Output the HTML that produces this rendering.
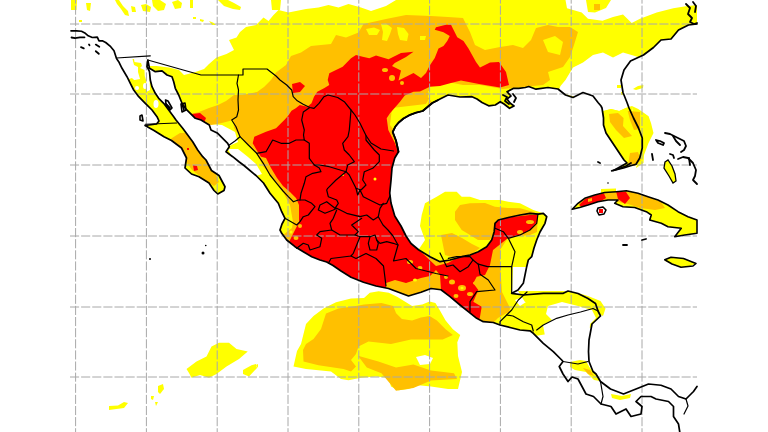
<!DOCTYPE html>
<html><head><meta charset="utf-8"><style>html,body{margin:0;padding:0;background:#fff;overflow:hidden;font-family:"Liberation Sans",sans-serif;}svg{display:block}</style></head>
<body><svg width="768" height="432" viewBox="0 0 768 432"><rect width="768" height="432" fill="#fff"/><polygon points="0,86 126,80 132,78 136,82 140,88 146,92 150,90 149,66 156.5,66 169,67.5 179,70 184,75 194,72.5 204,69 209,64 216.5,57.5 226.5,54 234,50 229,40 236.5,37.5 240,32 246,27 256,25 263.5,17.5 268.5,21 273.5,15 278.5,10 288.5,12.5 306,9 318.5,7.5 328.5,5 338.5,7.5 348.5,4 361,7.5 371,11 386,6 396,0 565.5,0 567,8.3 581.7,12.5 588,18.75 602.5,20.8 613,17 623,14.6 631.7,22.9 640,18.75 656.7,12.5 673.3,8.3 685.8,6.25 697,5 697,295 606,300 598,312 600,322 590,328 560,332 535,336 530,345 0,345" fill="#ffff00"/><polygon points="71,0 77,0 76.5,10 71,10" fill="#ffff00"/><polygon points="86,3 91,3 90,11 87,10" fill="#ffff00"/><polygon points="115,0 119,0 123,6 128,11 129,16 125,15 121,9 117,4" fill="#ffff00"/><polygon points="131,6 135,7 136,12 132,12" fill="#ffff00"/><polygon points="141,5 146,4 151,7 150,12 143,11" fill="#ffff00"/><polygon points="152,0 160,0 166,4 164,10 158,11 153,6" fill="#ffff00"/><polygon points="172,2 178,0 182,3 181,8 175,9" fill="#ffff00"/><polygon points="190,0 193,0 193,8 190,8" fill="#ffff00"/><polygon points="218,0 228,0 234,3 241,7 240,10 233,9 224,6" fill="#ffff00"/><polygon points="193,17 196,17 196,19 193,19" fill="#ffff00"/><polygon points="200,19 204,20 203,22 200,21" fill="#ffff00"/><polygon points="209,21 214,23 216,25 212,25" fill="#ffff00"/><polygon points="79,20 82,20 82,22 79,22" fill="#ffff00"/><polygon points="271,0 281,0 280,10 272,10" fill="#ffff00"/><polygon points="586,0 611,0 606,8 595,12.5 588,12" fill="#ffff00"/><polygon points="132.5,59 134,59 134.5,62 141,63 142,66 140,68 144.5,70 144.75,76 146,80 147,90 147,94 156,96 160,104 150,100 138,95 131,86 128,79 134.75,80 140,79 138,72 138,67 134,65" fill="#ffff00"/><polygon points="640,57.5 623,52.5 613,57.5 603,52.5 593,55 583,62.5 573,67.5 565.5,80 560.5,86 558,92 600,104 603,111 611,109 619,111 626,108 632,106 626,100 626,80 632,60" fill="#ffffff"/><polygon points="208,124 222,125 235,132 238,142 229,146 220,138 211,133" fill="#ffffff"/><polygon points="228,149 238,149 248,157 256,164 262,174 256,176 241,163 232,157" fill="#ffffff"/><polygon points="548,306 562,302 578,306 592,310 596,318 590,324 589,350 590,365 570,360 545,336 543,325 552,320 546,314" fill="#ffffff"/><polygon points="515,300 522,297 526,302 520,306" fill="#ffffff"/><polygon points="513,267 527,267 525,283 518,292 512,293" fill="#ffffff"/><ellipse cx="137" cy="88" rx="2" ry="2" fill="#fff"/><ellipse cx="156" cy="104" rx="2.5" ry="4" fill="#fff"/><ellipse cx="145" cy="86" rx="2" ry="3" fill="#fff"/><polygon points="186,115 199,112 209,108 218,105 226,101 234,95 242,95 257,92 264,87 271,80 276,72.5 286,65 291,56 301,52.5 311,46 331,44 336,35 346,37.5 358.5,32.5 363.5,24 386,19 406,15 431,16 448,17 463,18 470,32 475,45 485,50 500,47 513,45 523,48 531,40 536,28 548,25 558,27 570,27 578,32 574,45 570,57 563,67 548,72 550,80 543,85 523,87 503,89 480,85 463,85 448,82 430,84 428,97 445,120 420,200 420,250 495,223 510,210 538,214 537,232 530,235 520,236 508,238 500,250 500,263 502,292 510,308 507,322 498,330 470,345 300,345 270,250 283,235 292,228 293,222 290,205 283,192 279,186 273,178 263.3,166.7 256.7,153.3 248.3,145 240,136.7 234,128 233.3,120 221,123.3 211,125 200,122 190,118" fill="#ffc000"/><polygon points="172,138 180,133 188,133 196,140 205,152 212,165 216,175 219,182 214,186 205,180 192,170 185,160 178,148 168,142" fill="#ffc000"/><polygon points="392,108 426,104 430,97 426,110 411,118 401,126 396,133 390,125" fill="#ffff00"/><polygon points="428,91 448,89 463,91 480,91 500,93 510,95 500,100 480,100 448,98 430,98" fill="#ffff00"/><polygon points="381,24 386,23.5 392,28 390,34 387,41 382,40 383,32" fill="#ffff00"/><polygon points="397,27 404,28 408.5,34 407,41 400,40 398,34" fill="#ffff00"/><polygon points="420,36 426,36 425,40 420,40" fill="#ffff00"/><polygon points="366,29 374,27.5 380,30 377,35 369,35" fill="#ffff00"/><polygon points="543,40 555,36 563,42 560,55 548,52" fill="#ffff00"/><polygon points="299,222 299,205 296,198 290,192 283,186 277,178 271,168 266,158 261,156.7 257.7,151.7 252.7,143.3 254.3,136.7 266,131.7 276,128.3 284.3,120 288,116 291.5,110.8 295.7,108.3 299.8,105 307.3,106.7 311.5,103.3 314,96.7 317.3,91.7 324,88.3 329.3,85 327.7,80 329.3,73.3 336,70 342.7,66.7 351,58.3 356,55 362.7,56.7 369.3,58.3 376,55.5 388.5,59.25 401,53 413.5,51.75 406,57 394.75,63 392,66 401,70.5 398.5,80.5 406,76.75 413.5,73 421,78 426,73 429.75,65.5 434.75,58 438.5,48.5 443.5,46 447.25,41 449.75,36 443.5,32.25 434.75,29.75 436,27.25 446,24.75 451,24.75 453.5,29.75 457.25,37.25 463.5,41 468.5,48.5 476,62 480,67.5 490,62.5 499,62 506,72 509,85 500,87.5 479,84 461,80.5 451,83 440,86 429.75,86.75 420,91.5 413.5,91.75 404.75,95.5 400,101.7 390,113.3 386.7,118.3 388.3,130 395,143.3 398,152 440,160 440,200 405,230 418,249 436,266 448,263 470,250 495,223 498,220 508,217 520,215 538,214 537,222 530,230 520,235 508,238 493,250 490,265 485,275 476.7,276.7 473.3,283.3 478.3,290 473.3,301.7 481.7,306.7 480,316.7 478,324 440,300 400,300 300,270 289,242 292,236 296,228" fill="#ff0000"/><polygon points="292,84 300,82 305,86 300,92 293,93" fill="#ff0000"/><polygon points="192,114 200,113 206,118 204,123 196,120" fill="#ff0000"/><polygon points="386,283 395,280 406,283 421,278 430,276 436,270 440,275 441,290 431,288.5 421,292 408,296 398,292 386,288" fill="#ffc000"/><ellipse cx="452" cy="282" rx="3" ry="2.5" fill="#ffc000"/><ellipse cx="462" cy="288" rx="4" ry="3" fill="#ffc000"/><ellipse cx="470" cy="294" rx="3" ry="2" fill="#ffc000"/><ellipse cx="456" cy="296" rx="2.5" ry="2" fill="#ffc000"/><ellipse cx="478" cy="300" rx="2" ry="2" fill="#ffc000"/><ellipse cx="446" cy="277" rx="2" ry="2" fill="#ffc000"/><ellipse cx="462" cy="288" rx="1.5" ry="1.2" fill="#ffff00"/><ellipse cx="475" cy="283" rx="2" ry="1.5" fill="#ffc000"/><ellipse cx="300" cy="226" rx="2" ry="2" fill="#ffc000"/><ellipse cx="296" cy="238" rx="2.5" ry="2" fill="#ffc000"/><ellipse cx="291" cy="232" rx="1.5" ry="1.5" fill="#ffff00"/><ellipse cx="410" cy="262" rx="3" ry="2" fill="#ffc000"/><ellipse cx="420" cy="268" rx="2.5" ry="2" fill="#ffc000"/><ellipse cx="415" cy="280" rx="2" ry="1.5" fill="#ffff00"/><ellipse cx="530" cy="222" rx="4" ry="2" fill="#ffc000"/><ellipse cx="520" cy="232" rx="3" ry="2" fill="#ffc000"/><ellipse cx="375" cy="179" rx="1.5" ry="1.5" fill="#ffff00"/><ellipse cx="343" cy="175" rx="1" ry="1" fill="#ffff00"/><ellipse cx="385" cy="70" rx="3" ry="2" fill="#ffc000"/><ellipse cx="392" cy="78" rx="3" ry="3" fill="#ffc000"/><ellipse cx="402" cy="83" rx="2" ry="2" fill="#ffc000"/><polygon points="0,30.5 71,30.8 76.5,30.8 81.5,31.25 84.8,32.9 88.2,35.8 92.3,37.5 97.3,37.1 99,40.8 102.3,40.8 105.7,42.5 110.7,46.7 114,50.8 115.7,56 116.5,58.5 118.7,61.7 122,68.3 127,76.7 130.3,83.3 133.7,90 138.7,96.7 145.3,103.3 152,110 157,116.7 159,121 156.5,124 145,125.5 154,130.5 164,136.75 171.5,140.5 181.5,148 186.5,158 185,168 191.5,174 199,176.75 209,183 214,190.5 217.75,194 224,190.5 225,186.75 219,175.5 211.5,170.5 206,160 202.7,156.7 197.7,150 192.7,141.7 187.7,135 182.7,128.3 176,120 173.7,116.7 168.7,110 163.7,103.3 158.7,98.3 155.3,93.3 152,86.7 150.3,80 149.5,71.7 147,66.7 147.8,60 149.5,68.3 155.3,71.7 162,70.8 167,75 172,76.7 173.7,81.7 175.3,88.3 178.7,95 182,103.3 185.3,108.3 190.3,113.3 195.3,118.3 201,120 209.3,125 211,130 217.7,133.3 222.7,138.3 227.7,143.3 229.3,146.7 226,151.7 232.7,156.7 239.3,162 244,165.5 256,175.5 263.5,183 270,193.3 278.3,203.3 281.7,211.7 285,218.3 282,224 280,230 281.7,233.3 286.7,240 295,246.7 303.3,251.7 311.7,256.7 320,260 326.7,262 333,265.5 341,271 351,277.25 363.5,282.25 376,286 388.5,288.5 398.5,292.25 408.5,296 421,292.25 431,288.5 441,289.75 450,296.7 460,305 468.3,311.7 476.7,318.3 483.3,321.7 493.3,322.5 500,325 510,327.5 520,330 530,330.8 533.3,333.3 543.3,343.3 553.3,351.7 561.7,360 563,361.5 559.25,366.5 563,374 568,381.5 572,377 578,379 586,394 593.5,396.5 601,404 611,406.5 616,414 621,411.5 626,409 631,416.5 641,414 642,406.5 636,401.5 641,396.5 651,396.5 656,399 668.5,401.5 673.5,406.5 673.5,416.5 678.5,424 679.75,432 679.75,432 0,432" fill="#fff"/><polygon points="697,24 688.5,25 678.5,30 671,39 661,40 653.5,47.5 643.5,55 630.5,61 624,70 621,80 623,92.5 627,102.5 629,108 633.5,118 638.5,128 642.25,138 642.25,148 639.75,158 636,164.25 629.75,166 623.5,168 613.5,170.5 618,168 627,163 624,160 621,155.5 616,148 611,140.5 606,133 603.5,125 603.5,118 602,108 601,106 598,102.5 593,96 583,92.5 573,97.5 565.5,95 558,89 548,87.5 536,89.2 528.7,86.5 525.3,87.5 518.7,88.3 513.7,88.3 507,91.7 511,96 507,99 510.3,103.3 514,106 509.5,108.3 504,104 500.3,101.7 495.3,105 488.7,105.8 482,102.5 477,99 472,96.7 460,97 448,95 440,99 437.7,100.2 432.7,102.7 427.7,106.8 422.7,111 416,112.7 409.3,115.2 403.5,118.5 398.5,122.7 395.2,126.8 392.7,132 396,140.5 398.5,151.75 394.75,158 392,168 391,180.5 389.75,193 391,203 394.75,216 401,226 406,236 411,243.5 418.5,249.75 430,256.7 440,261.7 450,260 461.7,256.7 470,255 478.3,251.7 486.7,246.7 491.7,240 494.2,231.7 495,223.3 498.3,220 508.3,217.5 520,215 530,213.3 538.3,214.2 543.3,213.3 546.7,216.7 545,223.3 540,232 536.7,240 534,248 531.7,256.7 528.3,260 526.7,266.7 525,275 523.3,283.3 518,290 511.7,293.3 523.3,295 543.3,293.3 563.3,293.3 568,291 578,293.5 588,298.5 595.5,303.5 598,311 600.5,316 592,324 589,340 588.5,351.5 589,361.5 593,371.5 596,374 600.5,381.5 610.5,389 623.5,394 636,389 648.5,384 661,385.25 671,389 678.5,396.5 686,399 693.5,391.5 697,386.5 768,386.5 768,24" fill="#fff"/><defs><clipPath id="cuba"><polygon points="572.2,209.2 578,203.3 584.7,198.3 594.7,195 604.7,192.5 616.3,191.7 626.3,190.8 638,193.3 648,196.7 658,200 668,205 678,211.7 688,216.7 697,220 697,233.3 684.7,235 674.7,236.7 681.3,228.3 668,226.7 661.3,223.3 649.7,220 651.3,215 646.3,211.7 634.7,207.5 623,206.7 614.7,203.3 618,200 608,200 598,201.7 588,205 579.7,207.5 572.2,209.2"/></clipPath></defs><polygon points="421.7,215 425,203.3 436.7,196.7 445,191.7 456.7,191.7 461.7,196.7 470,196.7 480,200 490,200 500,200 508.3,201.7 520,203.3 533.3,210 543.3,213.3 538,214.2 520,215 508,217.5 498,220 495,223 494,232 491.7,240 486.7,246.7 478,252 470,255 461.7,256.7 450,260 440,261.7 430,256.7 418.5,249.75 425,240 420,226" fill="#ffff00"/><polygon points="455,211.7 460,205 470,203.3 485,203 495,206.7 508,208 520,208.3 533,211.7 538,214 508,217.5 498,220 495,223 494,231 490,240 478,240 470,235 461.7,230 455,220" fill="#ffc000"/><polygon points="441,235 452,233 462,238 472,244 480,248 470,255 455,258 445,255" fill="#ffc000"/><polygon points="293.5,366.5 297,351 301,344 303.5,334 306,324 313.5,316 323.5,308.5 336,302.25 351,298.5 364,298 369.8,292.7 378.6,291.3 388.8,292.7 397.5,297.1 404.8,301.5 412.1,305.9 422.3,304.4 429.6,301.5 435.4,303 439.8,310.2 445.6,320.4 452.9,329.2 460.2,335 457.3,342.3 458,356 462,372 458,389 448,389 431,386.5 418.5,385.25 408.5,389 398.5,390.25 391,386.5 388.5,377.75 376,376.5 361,377.75 348.5,380.25 341,379 331,371.5 318.5,370.25 306,369" fill="#ffff00"/><polygon points="326,313.5 338.5,308.5 356,306 364,304.4 381.5,303 393.2,305.9 396.1,313.2 401.9,319 412.1,320.4 420.9,317.5 429.6,316.1 436.9,320.4 445.6,329.2 452.9,335 442.7,339.4 422.3,339.4 411,339.5 391,344 368.5,341.5 358.5,346.5 356,354 351,360 356,366.5 351,371.5 343.5,369 318.5,365.25 303.5,361.5 303,350 306,344 313.5,339 321,329" fill="#ffc000"/><polygon points="358,355.8 378.4,361.6 396,367.5 413.4,364.5 431,370.4 454,373.3 457,379 431,380.6 413.4,388 396,390.8 390,383.5 381.4,373.3 366.8,367.5" fill="#ffc000"/><polygon points="416,357 425,355 433,358 430,364 420,365" fill="#ffffff"/><polygon points="186.5,369 196.5,361.5 206.5,356.5 211.5,346.5 219,342.75 229,342.75 236.5,349 247.75,351.5 239,359 226.5,366.5 216.5,374 209,377.75 200,375 191.5,377.75 189,373" fill="#ffff00"/><polygon points="243,370 251.5,365.25 256,364 257,368 249,376.5 243,374" fill="#ffff00"/><polygon points="109,406 118,405.5 124,402 128,403 124,408 109,410" fill="#ffff00"/><polygon points="158,386 163,384 164,389 160,394 158,392" fill="#ffff00"/><polygon points="151,396 154,396 153,400 151,399" fill="#ffff00"/><polygon points="155,402 158,402 156,406" fill="#ffff00"/><polygon points="256,365 258,364 258,368" fill="#ffff00"/><polygon points="570,362 580,360 586,361 590,368 598,376 600,381 594,380 586,372 575,370 570,367" fill="#ffff00"/><polygon points="583,368 590,370 594,376 588,374" fill="#ffc000"/><polygon points="611,394 622,396 631,394 630,398 620,400 612,398" fill="#ffff00"/><polygon points="518,291 543,291 563,291 578,293 588,296 600.5,301 605.5,308.5 603,316 596,312 588,303 570,300 545,300 525,302" fill="#ffff00"/><polygon points="498,318 506.7,313 520,318 532,322 536,332 530,331 520,330 500,325 493,323" fill="#ffff00"/><polygon points="604,111 611,109 619.4,111 625.7,108 631.9,105.9 633.5,118 638.5,128 642,138 642,148 640,158 636,164 630,166 624,168 614,170.5 618,168 627,163 624,160 621,155.5 616,148 611,140.5 606,133 603.5,125 603.5,118" fill="#ffff00"/><polygon points="631.9,105.9 638.2,109 644.4,113.2 648.6,116.3 651,123 653.5,133 648.5,143 644,155 643.5,163 636,168 638,160 642,148 642,138 638.5,128 633.5,118" fill="#ffff00"/><polygon points="609,114 618,113 623.6,118 623,126 632,136 624,138 616,130 610,122" fill="#ffc000"/><polygon points="627.75,111 640,112 640,129 634,130 630,120" fill="#ffc000"/><polygon points="630,153 638,152 641,160 635,166 628,165" fill="#ffc000"/><polygon points="572.2,209.2 578,203.3 584.7,198.3 594.7,195 604.7,192.5 616.3,191.7 626.3,190.8 638,193.3 648,196.7 658,200 668,205 678,211.7 688,216.7 697,220 697,233.3 684.7,235 674.7,236.7 681.3,228.3 668,226.7 661.3,223.3 649.7,220 651.3,215 646.3,211.7 634.7,207.5 623,206.7 614.7,203.3 618,200 608,200 598,201.7 588,205 579.7,207.5" fill="#ffff00" clip-path="url(#cuba)"/><polygon points="578,204 588,198 603,193 618,191 628,191 641,194 651,198 661,202 665,208 655,210 640,208 628,204 618,202 600,204 588,206" fill="#ffc000" clip-path="url(#cuba)"/><polygon points="193,165 197,166 198,170 194,171" fill="#ff0000"/><polygon points="187,148 189,148 189,150 187,150" fill="#ff0000"/><polygon points="601,189 616,188.5 616,192 601,193" fill="#ffff00"/><polygon points="579,205 585,199 594,195.5 604,193.5 606,198 600,201.7 590,204.5 582,207" fill="#ff0000" clip-path="url(#cuba)"/><polygon points="588,199 592,198 592,201 588,202" fill="#ffc000" clip-path="url(#cuba)"/><polygon points="616,191 626,192 630,198 625,204 618,199" fill="#ff0000" clip-path="url(#cuba)"/><polygon points="595,208 605,208 608,214 600,216 594,213" fill="#ffffff"/><polygon points="599,209 603,209 603,213 599,213" fill="#ff0000"/><polygon points="594,4 600,4 600,10 594,10" fill="#ffc000"/><polygon points="664.75,259.75 671,257.25 683.5,258.5 696,263.5 690,266 681,267.25 672,264 665,261" fill="#ffff00"/><polygon points="617,85 621.5,85 621,88 617,88" fill="#ffff00"/><polygon points="633,89 638,86 643.4,85 643,88 636,90" fill="#ffff00"/><polygon points="621,92 623,92 623,95 621,95" fill="#ffff00"/><rect x="0" y="0" width="71" height="432" fill="#fff"/><rect x="697" y="0" width="71" height="432" fill="#fff"/><g stroke="#a8a8a8" stroke-width="1" stroke-dasharray="9.1 2.02"><line x1="75.60" y1="0" x2="75.60" y2="432" stroke-dashoffset="5.47"/><line x1="146.40" y1="0" x2="146.40" y2="432" stroke-dashoffset="5.47"/><line x1="217.20" y1="0" x2="217.20" y2="432" stroke-dashoffset="5.47"/><line x1="288.00" y1="0" x2="288.00" y2="432" stroke-dashoffset="5.47"/><line x1="358.80" y1="0" x2="358.80" y2="432" stroke-dashoffset="5.47"/><line x1="429.60" y1="0" x2="429.60" y2="432" stroke-dashoffset="5.47"/><line x1="500.40" y1="0" x2="500.40" y2="432" stroke-dashoffset="5.47"/><line x1="571.20" y1="0" x2="571.20" y2="432" stroke-dashoffset="5.47"/><line x1="642.00" y1="0" x2="642.00" y2="432" stroke-dashoffset="5.47"/><line x1="70" y1="24.00" x2="697" y2="24.00" /><line x1="70" y1="94.00" x2="697" y2="94.00" /><line x1="70" y1="165.00" x2="697" y2="165.00" /><line x1="70" y1="236.00" x2="697" y2="236.00" /><line x1="70" y1="307.00" x2="697" y2="307.00" /><line x1="70" y1="377.00" x2="697" y2="377.00" /></g><polyline points="71,30.8 76.5,30.8 81.5,31.25 84.8,32.9 88.2,35.8 92.3,37.5 97.3,37.1 99,40.8 102.3,40.8 105.7,42.5 110.7,46.7 114,50.8 115.7,56 116.5,58.5 118.7,61.7 122,68.3 127,76.7 130.3,83.3 133.7,90 138.7,96.7 145.3,103.3 152,110 157,116.7 159,121 156.5,124 145,125.5 154,130.5 164,136.75 171.5,140.5 181.5,148 186.5,158 185,168 191.5,174 199,176.75 209,183 214,190.5 217.75,194 224,190.5 225,186.75 219,175.5 211.5,170.5 206,160 202.7,156.7 197.7,150 192.7,141.7 187.7,135 182.7,128.3 176,120 173.7,116.7 168.7,110 163.7,103.3 158.7,98.3 155.3,93.3 152,86.7 150.3,80 149.5,71.7 147,66.7 147.8,60 149.5,68.3 155.3,71.7 162,70.8 167,75 172,76.7 173.7,81.7 175.3,88.3 178.7,95 182,103.3 185.3,108.3 190.3,113.3 195.3,118.3 201,120 209.3,125 211,130 217.7,133.3 222.7,138.3 227.7,143.3 229.3,146.7 226,151.7 232.7,156.7 239.3,162 244,165.5 256,175.5 263.5,183 270,193.3 278.3,203.3 281.7,211.7 285,218.3 282,224 280,230 281.7,233.3 286.7,240 295,246.7 303.3,251.7 311.7,256.7 320,260 326.7,262 333,265.5 341,271 351,277.25 363.5,282.25 376,286 388.5,288.5 398.5,292.25 408.5,296 421,292.25 431,288.5 441,289.75 450,296.7 460,305 468.3,311.7 476.7,318.3 483.3,321.7 493.3,322.5 500,325 510,327.5 520,330 530,330.8 533.3,333.3 543.3,343.3 553.3,351.7 561.7,360 563,361.5 559.25,366.5 563,374 568,381.5 572,377 578,379 586,394 593.5,396.5 601,404 611,406.5 616,414 621,411.5 626,409 631,416.5 641,414 642,406.5 636,401.5 641,396.5 651,396.5 656,399 668.5,401.5 673.5,406.5 673.5,416.5 678.5,424 679.75,432" fill="none" stroke="#000" stroke-width="1.7" stroke-linejoin="round" stroke-linecap="round"/><polyline points="697,24 688.5,25 678.5,30 671,39 661,40 653.5,47.5 643.5,55 630.5,61 624,70 621,80 623,92.5 627,102.5 629,108 633.5,118 638.5,128 642.25,138 642.25,148 639.75,158 636,164.25 629.75,166 623.5,168 613.5,170.5 618,168 627,163 624,160 621,155.5 616,148 611,140.5 606,133 603.5,125 603.5,118 602,108 601,106 598,102.5 593,96 583,92.5 573,97.5 565.5,95 558,89 548,87.5 536,89.2 528.7,86.5 525.3,87.5 518.7,88.3 513.7,88.3 507,91.7 511,96 507,99 510.3,103.3 514,106 509.5,108.3 504,104 500.3,101.7 495.3,105 488.7,105.8 482,102.5 477,99 472,96.7 460,97 448,95 440,99 437.7,100.2 432.7,102.7 427.7,106.8 422.7,111 416,112.7 409.3,115.2 403.5,118.5 398.5,122.7 395.2,126.8 392.7,132 396,140.5 398.5,151.75 394.75,158 392,168 391,180.5 389.75,193 391,203 394.75,216 401,226 406,236 411,243.5 418.5,249.75 430,256.7 440,261.7 450,260 461.7,256.7 470,255 478.3,251.7 486.7,246.7 491.7,240 494.2,231.7 495,223.3 498.3,220 508.3,217.5 520,215 530,213.3 538.3,214.2 543.3,213.3 546.7,216.7 545,223.3 540,232 536.7,240 534,248 531.7,256.7 528.3,260 526.7,266.7 525,275 523.3,283.3 518,290 511.7,293.3 523.3,295 543.3,293.3 563.3,293.3 568,291 578,293.5 588,298.5 595.5,303.5 598,311 600.5,316 592,324 589,340 588.5,351.5 589,361.5 593,371.5 596,374 600.5,381.5 610.5,389 623.5,394 636,389 648.5,384 661,385.25 671,389 678.5,396.5 686,399 693.5,391.5 697,386.5" fill="none" stroke="#000" stroke-width="1.7" stroke-linejoin="round" stroke-linecap="round"/><polyline points="572.2,209.2 578,203.3 584.7,198.3 594.7,195 604.7,192.5 616.3,191.7 626.3,190.8 638,193.3 648,196.7 658,200 668,205 678,211.7 688,216.7 697,220 697,233.3 684.7,235 674.7,236.7 681.3,228.3 668,226.7 661.3,223.3 649.7,220 651.3,215 646.3,211.7 634.7,207.5 623,206.7 614.7,203.3 618,200 608,200 598,201.7 588,205 579.7,207.5 572.2,209.2" fill="none" stroke="#000" stroke-width="1.6" stroke-linejoin="round" stroke-linecap="round"/><polyline points="598,208 603,207 606,210 604,214 599,215 597,211 598,208" fill="none" stroke="#000" stroke-width="1.6" stroke-linejoin="round" stroke-linecap="round"/><polyline points="664.75,259.75 671,257.25 683.5,258.5 696,263.5 693,266 681,267.25 672,264 664.75,259.75" fill="none" stroke="#000" stroke-width="1.6" stroke-linejoin="round" stroke-linecap="round"/><polyline points="181,104 185,103 186,110 182,112 181,104" fill="none" stroke="#000" stroke-width="1.6" stroke-linejoin="round" stroke-linecap="round"/><polyline points="165.5,100 168,101 172,108 170,110 166,104 165.5,100" fill="none" stroke="#000" stroke-width="1.6" stroke-linejoin="round" stroke-linecap="round"/><polyline points="140,116 142,115 143,121 140,120 140,116" fill="none" stroke="#000" stroke-width="1.6" stroke-linejoin="round" stroke-linecap="round"/><polyline points="437.7,100.2 432.7,102.7 427.7,106.8 422.7,111 416,112.7 409.3,115.2 403.5,118.5 398.5,122.7 395.2,126.8 392.7,132 396,140.5 398.5,151.75" fill="none" stroke="#000" stroke-width="1.8" stroke-linejoin="round" stroke-linecap="round"/><polyline points="503,95 507,97 505,101 509,104" fill="none" stroke="#000" stroke-width="1.8" stroke-linejoin="round" stroke-linecap="round"/><polyline points="513,94 516,98 514,102" fill="none" stroke="#000" stroke-width="1.8" stroke-linejoin="round" stroke-linecap="round"/><polyline points="686,4 690,8 688,14 692,18 690,22 694,24 697,23" fill="none" stroke="#000" stroke-width="1.8" stroke-linejoin="round" stroke-linecap="round"/><polyline points="693,2 696,6 695,12" fill="none" stroke="#000" stroke-width="1.8" stroke-linejoin="round" stroke-linecap="round"/><polyline points="656,140 660,141 664,143 663,145 658,143 656,140" fill="none" stroke="#000" stroke-width="1.8" stroke-linejoin="round" stroke-linecap="round"/><polyline points="665,133 670,134 676,137 684,141 686,146 684,150 681,152" fill="none" stroke="#000" stroke-width="1.8" stroke-linejoin="round" stroke-linecap="round"/><polyline points="673,136 676,141 680,145" fill="none" stroke="#000" stroke-width="1.8" stroke-linejoin="round" stroke-linecap="round"/><polyline points="670,154 673,155 674,158" fill="none" stroke="#000" stroke-width="1.8" stroke-linejoin="round" stroke-linecap="round"/><polyline points="678,159 683,157 688,158 693,163 696,170 695,176 693,180 697,184" fill="none" stroke="#000" stroke-width="1.8" stroke-linejoin="round" stroke-linecap="round"/><polyline points="689,158 690,165" fill="none" stroke="#000" stroke-width="1.8" stroke-linejoin="round" stroke-linecap="round"/><polyline points="652,154 653,160" fill="none" stroke="#000" stroke-width="1.8" stroke-linejoin="round" stroke-linecap="round"/><polyline points="611.7,170.8 618,169 626,166 631,163" fill="none" stroke="#000" stroke-width="1.8" stroke-linejoin="round" stroke-linecap="round"/><polyline points="623,245 627,245" fill="none" stroke="#000" stroke-width="1.8" stroke-linejoin="round" stroke-linecap="round"/><polyline points="642,240 646,239" fill="none" stroke="#000" stroke-width="1.8" stroke-linejoin="round" stroke-linecap="round"/><polyline points="598,162 600,163" fill="none" stroke="#000" stroke-width="1.8" stroke-linejoin="round" stroke-linecap="round"/><polyline points="71.5,37.5 75,38.2 80,37.4 84.5,37.3" fill="none" stroke="#000" stroke-width="1.8" stroke-linejoin="round" stroke-linecap="round"/><polyline points="81,47.2 83.8,48.3" fill="none" stroke="#000" stroke-width="1.8" stroke-linejoin="round" stroke-linecap="round"/><polyline points="89,44.5 89.5,45.2" fill="none" stroke="#000" stroke-width="1.8" stroke-linejoin="round" stroke-linecap="round"/><polyline points="95.8,44.6 99.3,46.8" fill="none" stroke="#000" stroke-width="1.8" stroke-linejoin="round" stroke-linecap="round"/><polyline points="95.8,51.2 98.8,53.8" fill="none" stroke="#000" stroke-width="1.8" stroke-linejoin="round" stroke-linecap="round"/><polyline points="166,104 170,108" fill="none" stroke="#000" stroke-width="1.8" stroke-linejoin="round" stroke-linecap="round"/><polyline points="182,104 184,110" fill="none" stroke="#000" stroke-width="1.8" stroke-linejoin="round" stroke-linecap="round"/><polygon points="665,162 668,160 672,166 675,174 676,181 673,183 669,176 664,168" fill="#ffff00" stroke="#000" stroke-width="1.3"/><polyline points="116.5,58 150.3,55.8" fill="none" stroke="#000" stroke-width="1.2" stroke-linejoin="round" stroke-linecap="round"/><polyline points="147.8,60 201,75 243,75 243,69 267,69 276,76 280,80 286.7,85 291.7,90 293.2,96.7 297.3,100.8 303.2,104.2 309.8,107.5 314,108.3 319,103.3 324,96.7 328,95 337.7,97.5 344.3,101.7 351,110 355,115 360,123.3 366,135.5 371,143 381,149 393.5,151" fill="none" stroke="#000" stroke-width="1.2" stroke-linejoin="round" stroke-linecap="round"/><polyline points="145.25,124.25 176.5,123" fill="none" stroke="#000" stroke-width="1.2" stroke-linejoin="round" stroke-linecap="round"/><polyline points="238.5,75 237,83.3 238.5,90 238,100 238.5,110 236.8,116.7 231.7,120 236,126.7 240,136.7 235,141 229.3,145" fill="none" stroke="#000" stroke-width="1.2" stroke-linejoin="round" stroke-linecap="round"/><polyline points="240,136.7 248.3,145 256.7,153.3 263.3,163.3 270,175 276.7,183.3 283,191 288.3,196.7 293.3,201.7" fill="none" stroke="#000" stroke-width="1.2" stroke-linejoin="round" stroke-linecap="round"/><polyline points="256.7,153.3 266,151.7 272.7,140 281,143.3 289.3,143.3 296,140 304.3,140 303.5,135 304.3,130 301.7,120 303.3,112 309.8,107.5" fill="none" stroke="#000" stroke-width="1.2" stroke-linejoin="round" stroke-linecap="round"/><polyline points="304.3,140 309.3,143.3 309.3,158.3 314.3,165 319.3,165 329.3,166.7 346,171.7" fill="none" stroke="#000" stroke-width="1.2" stroke-linejoin="round" stroke-linecap="round"/><polyline points="314.3,165 319.3,168 321,171.7 312.7,173.3 306,176.7 304.3,183.3 301,193.3 300,200" fill="none" stroke="#000" stroke-width="1.2" stroke-linejoin="round" stroke-linecap="round"/><polyline points="293.3,201.7 298.3,200 305,200 311.7,203.3 315,206.7 308.3,215 303.3,216.7 300,221.7 296.7,225 285,218.3" fill="none" stroke="#000" stroke-width="1.2" stroke-linejoin="round" stroke-linecap="round"/><polyline points="351,110 349.3,130 348,136.7 342.7,143.3 344.3,150 349.3,155 354.3,161.7 347.7,165 346,171.7" fill="none" stroke="#000" stroke-width="1.2" stroke-linejoin="round" stroke-linecap="round"/><polyline points="366,135.5 366,140 374.3,150 379.3,155 379.3,161.7 372.7,168.3 364.3,171.7 362.7,180 366,185 361,190 356,188.3 349.3,175 346,171.7" fill="none" stroke="#000" stroke-width="1.2" stroke-linejoin="round" stroke-linecap="round"/><polyline points="346,171.7 336,180 327.7,188.3 326.7,190 328.3,196.7 336.7,200 338.3,203.3 335,208.3 326.7,201.7 320,205 318.3,210 325,213.3 333.3,210 336.7,208.3" fill="none" stroke="#000" stroke-width="1.2" stroke-linejoin="round" stroke-linecap="round"/><polyline points="356,188.3 357.7,195 360,190 363.3,196.7 373.3,201.7 380,205 386.7,203.3 390,196" fill="none" stroke="#000" stroke-width="1.2" stroke-linejoin="round" stroke-linecap="round"/><polyline points="336.7,208.3 346.7,213.3 360,216.7 366.7,215 373.3,220 378.3,216.7 380,208.3 383.3,203.3" fill="none" stroke="#000" stroke-width="1.2" stroke-linejoin="round" stroke-linecap="round"/><polyline points="336.7,210 333.3,218.3 330,223.3 331.7,230 340,235 355,235 358.3,231.7 351.7,225 361.7,218.3" fill="none" stroke="#000" stroke-width="1.2" stroke-linejoin="round" stroke-linecap="round"/><polyline points="331.7,230 320,231.7 316.7,235 321.7,238.3 320,246.7 310,250 308.3,245 303.3,243.3 296.7,248.3" fill="none" stroke="#000" stroke-width="1.2" stroke-linejoin="round" stroke-linecap="round"/><polyline points="355,235 360,236.7 356.7,245 353.3,253.3 351,256 331,258.5 328.5,263" fill="none" stroke="#000" stroke-width="1.2" stroke-linejoin="round" stroke-linecap="round"/><polyline points="351,256 356,258.5 366,253.5 376,258.5 383.5,266 386,286" fill="none" stroke="#000" stroke-width="1.2" stroke-linejoin="round" stroke-linecap="round"/><polyline points="360,236.7 370,236.7 375,235 376.7,240 380,243.3 386.7,241.7 393.3,243.3 398,245" fill="none" stroke="#000" stroke-width="1.2" stroke-linejoin="round" stroke-linecap="round"/><polyline points="370,236.7 368.3,243.3 370,250 376.7,250 378.3,243.3 376.7,240" fill="none" stroke="#000" stroke-width="1.2" stroke-linejoin="round" stroke-linecap="round"/><polyline points="378.3,216.7 383,225 388,230 393,236 398,245 393.5,261 406,258.5 416,268.5 436,273.5 448,276" fill="none" stroke="#000" stroke-width="1.2" stroke-linejoin="round" stroke-linecap="round"/><polyline points="440,253 446.7,266.7 453,265 460,271.7 468.3,266.7 473,260" fill="none" stroke="#000" stroke-width="1.2" stroke-linejoin="round" stroke-linecap="round"/><polyline points="448.3,258.3 456.7,256.7 470,256.7 473,260 478.3,264.2 487.5,266.7 511.7,266.7 511.7,293.3" fill="none" stroke="#000" stroke-width="1.2" stroke-linejoin="round" stroke-linecap="round"/><polyline points="478.3,264.2 480,274.2 488.3,280 495,290 476.7,291.7 470,301.7 470,311.7" fill="none" stroke="#000" stroke-width="1.2" stroke-linejoin="round" stroke-linecap="round"/><polyline points="527,292 518.3,300 511.7,310 506.7,315 500,321.7 500,324" fill="none" stroke="#000" stroke-width="1.2" stroke-linejoin="round" stroke-linecap="round"/><polyline points="506.7,315 513,316 523.3,321.7 531.7,325 533.3,331" fill="none" stroke="#000" stroke-width="1.2" stroke-linejoin="round" stroke-linecap="round"/><polyline points="495,228.3 503.3,231.7 508.3,238.3 520,235 530,230 536.7,223.3 538,214" fill="none" stroke="#000" stroke-width="1.2" stroke-linejoin="round" stroke-linecap="round"/><polyline points="508.3,238.3 515,251.7 511.7,266.7" fill="none" stroke="#000" stroke-width="1.2" stroke-linejoin="round" stroke-linecap="round"/><polyline points="536.7,330 543.3,325 556.7,318.3 568,315 580.5,312 593,308.5 598,311" fill="none" stroke="#000" stroke-width="1.2" stroke-linejoin="round" stroke-linecap="round"/><polyline points="563,361.5 570.5,362.75 578,364 588,361.5" fill="none" stroke="#000" stroke-width="1.2" stroke-linejoin="round" stroke-linecap="round"/><polyline points="600.5,381.5 603,396.5 601,404" fill="none" stroke="#000" stroke-width="1.2" stroke-linejoin="round" stroke-linecap="round"/><polyline points="686,399 688,406 684,414" fill="none" stroke="#000" stroke-width="1.2" stroke-linejoin="round" stroke-linecap="round"/><circle cx="150" cy="259" r="1" fill="#000"/><circle cx="203" cy="253" r="1.5" fill="#000"/><circle cx="205.75" cy="245.5" r="0.8" fill="#000"/><circle cx="608" cy="183" r="0.8" fill="#000"/></svg></body></html>
